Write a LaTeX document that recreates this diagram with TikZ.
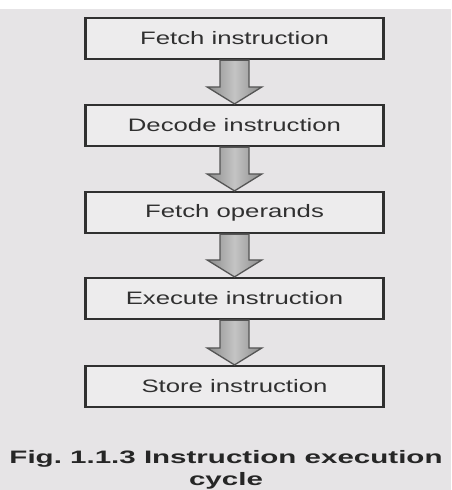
\documentclass[tikz,border=0pt]{standalone}
\usepackage{fontspec}
\setmainfont{Liberation Sans}
\newfontfamily\boxfont[FakeStretch=1.43]{Liberation Sans}
\newfontfamily\capfont[FakeStretch=1.64]{Liberation Sans}
\usetikzlibrary{calc}

\definecolor{paper}{HTML}{E6E4E6}
\definecolor{boxfill}{HTML}{EDECED}
\definecolor{ink}{HTML}{303030}
\definecolor{arrowedge}{HTML}{555555}
\definecolor{arrowdark}{HTML}{8A8A8A}
\definecolor{arrowlight}{HTML}{C4C4C4}

\tikzset{
  stepbox/.style={draw=ink, line width=2.2pt, fill=boxfill,
    minimum width=298pt, minimum height=41pt, inner sep=0pt,
    font=\boxfont\fontsize{18}{20}\selectfont, text=ink},
  flowarrow/.style={draw=arrowedge, line width=1.3pt, line join=miter,
    left color=arrowdark, right color=arrowdark, middle color=arrowlight},
  captext/.style={anchor=base, inner sep=0pt,
    font=\capfont\bfseries\fontsize{18}{20}\selectfont, text=black!85}
}

% block arrow from the bottom of one box to the top of the next
\newcommand{\blockarrow}[2]{%
  \path[flowarrow] let \p1=(#1.south), \p2=(#2.north) in
    (\x1-14.5pt,\y1) -- (\x1+14.5pt,\y1) -- (\x1+14.5pt,\y2+17pt)
    -- (\x1+27.5pt,\y2+17pt) -- (\x1,\y2) -- (\x1-27.5pt,\y2+17pt)
    -- (\x1-14.5pt,\y2+17pt) -- cycle;}

\begin{document}
\begin{tikzpicture}[x=1pt,y=-1pt]
  \fill[paper] (0,0) rectangle (451,490);
  \fill[white] (0,0) rectangle (451,9);
  \useasboundingbox (0,0) rectangle (451,490);

  \node[stepbox] (fetch)   at (234.5,38.5)  {Fetch instruction};
  \node[stepbox] (decode)  at (234.5,125.5) {Decode instruction};
  \node[stepbox] (operand) at (234.5,212.5) {Fetch operands};
  \node[stepbox] (exec)    at (234.5,298.5) {Execute instruction};
  \node[stepbox] (store)   at (234.5,386.5) {Store instruction};

  \blockarrow{fetch}{decode}
  \blockarrow{decode}{operand}
  \blockarrow{operand}{exec}
  \blockarrow{exec}{store}

  \node[captext] (cap1) at (226,463) {Fig.\ 1.1.3 Instruction execution};
  \node[captext] (cap2) at (226,485.5) {cycle};
\end{tikzpicture}
\end{document}
